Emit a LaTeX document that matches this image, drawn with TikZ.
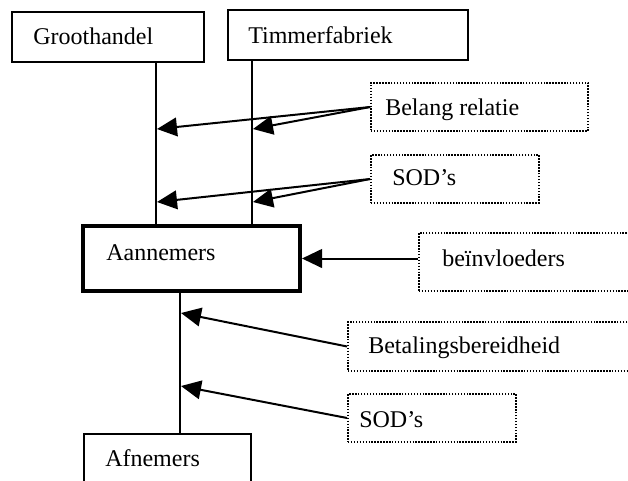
\documentclass[tikz,border=0pt]{standalone}
\usepackage{fontspec}
\setmainfont{Liberation Serif}
\usetikzlibrary{fit,arrows.meta}
\begin{document}
\begin{tikzpicture}[x=0.75pt,y=-0.75pt,
  solidbox/.style={draw=black,line width=1.5pt,inner sep=0pt},
  thickbox/.style={draw=black,line width=3pt,inner sep=0pt},
  dotbox/.style={draw=black,line width=1.3pt,dash pattern=on 1.1pt off 1.1pt,inner sep=0pt},
  lbl/.style={anchor=base west,inner sep=0pt,font=\fontsize{18}{21}\selectfont},
  conn/.style={draw=black,line width=1.5pt},
  arr/.style={draw=black,line width=1.5pt,-{Triangle[length=15pt,width=14pt]}}]
\useasboundingbox (0,0) rectangle (628,480);
% boxes
\node[solidbox,fit={(12,12) (204,62)}] (g) {};
\node[solidbox,fit={(228,10) (468,60)}] (t) {};
\node[thickbox,fit={(83,226) (300,291)}] (a) {};
\node[dotbox,fit={(371,83) (588,131)}] (br) {};
\node[dotbox,fit={(371,155) (539,203)}] (s1) {};
\node[dotbox,fit={(419,233) (645,291)}] (bv) {};
\node[dotbox,fit={(348,322) (645,371)}] (bb) {};
\node[dotbox,fit={(348,394) (516,442)}] (s2) {};
\node[solidbox,fit={(84,434) (251,495)}] (af) {};
% labels
\node[lbl] (gt) at (33,44) {Groothandel};
\node[lbl] (tt) at (248,43) {Timmerfabriek};
\node[lbl] (at) at (106,260) {Aannemers};
\node[lbl] (brt) at (385,115) {Belang relatie};
\node[lbl] (s1t) at (392,185) {SOD’s};
\node[lbl] (bvt) at (442,266) {beïnvloeders};
\node[lbl] (bbt) at (368,353) {Betalingsbereidheid};
\node[lbl] (s2t) at (359,427) {SOD’s};
\node[lbl] (aft) at (105,466) {Afnemers};
% line positions
\coordinate (v1) at (156,0);
\coordinate (v2) at (252,0);
\coordinate (v3) at (180,0);
\coordinate (p1) at (157,129);
\coordinate (p2) at (253,129);
\coordinate (p3) at (157,202);
\coordinate (p4) at (253,202);
\coordinate (p5) at (181,313);
\coordinate (p6) at (181,386);
% vertical connectors
\draw[conn] (g.south -| v1) -- (a.north -| v1);
\draw[conn] (t.south -| v2) -- (a.north -| v2);
\draw[conn] (a.south -| v3) -- (af.north -| v3);
% arrows
\draw[arr] (br.west) -- (p1);
\draw[arr] (br.west) -- (p2);
\draw[arr] (s1.west) -- (p3);
\draw[arr] (s1.west) -- (p4);
\draw[arr] (a.east -| bv.west) -- (a.east);
\draw[arr] (bb.west) -- (p5);
\draw[arr] (s2.west) -- (p6);
\end{tikzpicture}
\end{document}
